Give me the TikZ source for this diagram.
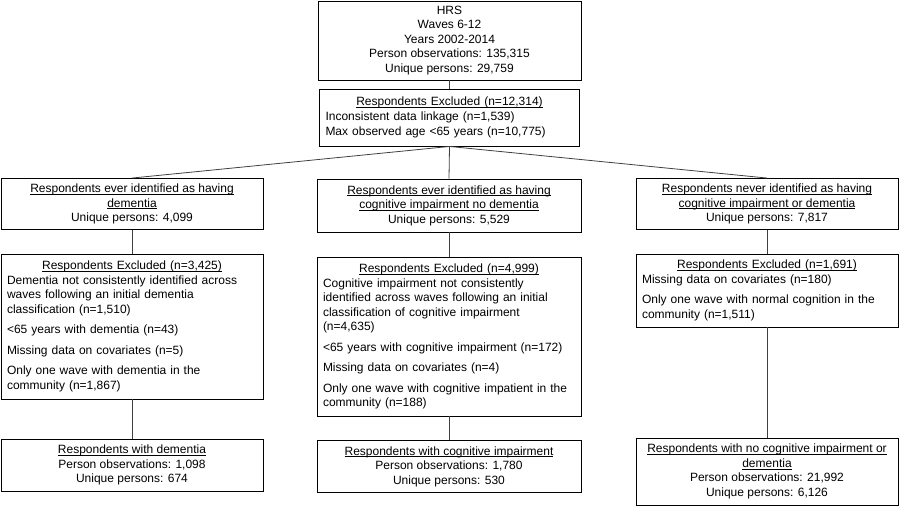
\documentclass[tikz,border=0pt]{standalone}
\usepackage{fontspec}
\setmainfont{Liberation Sans}
\newcommand{\ulhead}[1]{\leavevmode\setbox0=\hbox{#1}\rlap{\rule[-1.9pt]{\wd0}{0.7pt}}\box0}

\begin{document}
\begin{tikzpicture}[x=1pt, y=-1pt,
    box/.style={draw, line width=0.9pt, rectangle, inner sep=0pt, align=center,
        font=\fontsize{12}{14.5}\selectfont},
    exclbox/.style={box, align=left, inner xsep=6pt},
    link/.style={line width=0.8pt, black!75}]
    \useasboundingbox (0,0) rectangle (900,506);

    % source and first exclusion
    \node[box, minimum width=263, minimum height=79] (hrs) at (449.5, 40.5)
        {HRS\\ Waves 6-12\\ Years 2002-2014\\ Person observations: 135,315\\ Unique persons: 29,759};
    \node[exclbox, text width=248, minimum height=57] (excl) at (449.5, 117.5)
        {\centerline{\ulhead{Respondents Excluded (n=12,314)}}
         Inconsistent data linkage (n=1,539)\\[0.5pt]
         Max observed age <65 years (n=10,775)};

    % three groups
    \node[box, minimum width=262, minimum height=51] (dem) at (132, 204)
        {\ulhead{Respondents ever identified as having}\\ \ulhead{dementia}\\ Unique persons: 4,099};
    \node[box, minimum width=264, minimum height=53] (cind) at (449, 205.5)
        {\ulhead{Respondents ever identified as having}\\ \ulhead{cognitive impairment no dementia}\\ Unique persons: 5,529};
    \node[box, minimum width=262, minimum height=51] (norm) at (767, 204)
        {\ulhead{Respondents never identified as having}\\ \ulhead{cognitive impairment or dementia}\\ Unique persons: 7,817};

    % exclusions per group
    \node[exclbox, text width=250, minimum height=145] (demx) at (132, 326.5)
        {\centerline{\ulhead{Respondents Excluded (n=3,425)}}
         Dementia not consistently identified across\\ waves following an initial dementia\\ classification (n=1,510)\\[6pt]
         <65 years with dementia (n=43)\\[6pt]
         Missing data on covariates (n=5)\\[6pt]
         Only one wave with dementia in the\\ community (n=1,867)};
    \node[exclbox, text width=252, minimum height=159] (cindx) at (449, 336.5)
        {\centerline{\ulhead{Respondents Excluded (n=4,999)}}
         Cognitive impairment not consistently\\ identified across waves following an initial\\ classification of cognitive impairment\\ (n=4,635)\\[6pt]
         <65 years with cognitive impairment (n=172)\\[6pt]
         Missing data on covariates (n=4)\\[6pt]
         Only one wave with cognitive impatient in the\\ community (n=188)};
    \node[exclbox, text width=250, minimum height=73] (normx) at (767, 290.5)
        {\centerline{\ulhead{Respondents Excluded (n=1,691)}}
         Missing data on covariates (n=180)\\[6pt]
         Only one wave with normal cognition in the\\ community (n=1,511)};

    % final samples
    \node[box, minimum width=262, minimum height=52] (demf) at (132, 465)
        {\ulhead{Respondents with dementia}\\ Person observations: 1,098\\ Unique persons: 674};
    \node[box, minimum width=264, minimum height=52] (cindf) at (449, 466.5)
        {\ulhead{Respondents with cognitive impairment}\\ Person observations: 1,780\\ Unique persons: 530};
    \node[box, minimum width=262, minimum height=67] (normf) at (767, 471.5)
        {\ulhead{Respondents with no cognitive impairment or}\\ \ulhead{dementia}\\ Person observations: 21,992\\ Unique persons: 6,126};

    \draw[link] (hrs) -- (excl);
    \draw[link] (excl.south) -- (dem.north);
    \draw[link] (excl.south) -- (cind.north);
    \draw[link] (excl.south) -- (norm.north);
    \draw[link] (dem) -- (demx);
    \draw[link] (cind) -- (cindx);
    \draw[link] (norm) -- (normx);
    \draw[link] (demx) -- (demf);
    \draw[link] (cindx) -- (cindf);
    \draw[link] (normx) -- (normf);
\end{tikzpicture}
\end{document}
